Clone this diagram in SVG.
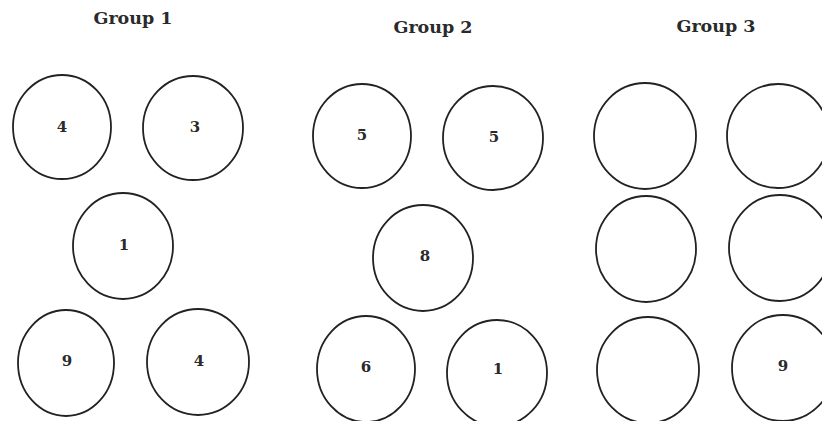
<svg xmlns="http://www.w3.org/2000/svg" width="822" height="421" viewBox="0 0 822 421">
<style>
.c{fill:none;stroke:#222;stroke-width:1.8}
.t{font-family:"DejaVu Serif","Liberation Serif",serif;font-weight:bold;font-size:17.5px;fill:#2a2a2a;text-anchor:middle}
.n{font-family:"DejaVu Serif","Liberation Serif",serif;font-weight:bold;font-size:15px;fill:#2a2a2a;text-anchor:middle;dominant-baseline:central}
</style>
<rect width="822" height="421" fill="#fff"/>
<g id="titles">
<text class="t" x="133" y="24">Group 1</text>
<text class="t" x="433" y="33">Group 2</text>
<text class="t" x="716" y="32">Group 3</text>
</g>
<g id="connectors"></g>
<g id="g1a"><ellipse class="c" cx="62" cy="127" rx="49" ry="52"/><text class="n" x="62" y="127">4</text></g>
<g id="g1b"><ellipse class="c" cx="193" cy="128" rx="50" ry="52"/><text class="n" x="195" y="127">3</text></g>
<g id="g1c"><ellipse class="c" cx="123" cy="246" rx="50" ry="53"/><text class="n" x="124" y="245">1</text></g>
<g id="g1d"><ellipse class="c" cx="66" cy="363" rx="48" ry="53"/><text class="n" x="67" y="361">9</text></g>
<g id="g1e"><ellipse class="c" cx="198" cy="362" rx="51" ry="53"/><text class="n" x="199" y="361">4</text></g>
<g id="g2a"><ellipse class="c" cx="362" cy="136" rx="49" ry="52"/><text class="n" x="362" y="135">5</text></g>
<g id="g2b"><ellipse class="c" cx="493" cy="138" rx="50" ry="52"/><text class="n" x="494" y="137">5</text></g>
<g id="g2c"><ellipse class="c" cx="423" cy="258" rx="50" ry="53"/><text class="n" x="425" y="256">8</text></g>
<g id="g2d"><ellipse class="c" cx="366" cy="369" rx="49" ry="53"/><text class="n" x="366" y="367">6</text></g>
<g id="g2e"><ellipse class="c" cx="497" cy="373" rx="50" ry="53"/><text class="n" x="498" y="369">1</text></g>
<g id="g3a"><ellipse class="c" cx="645" cy="136" rx="51" ry="53"/></g>
<g id="g3b"><ellipse class="c" cx="778" cy="136" rx="51" ry="52"/></g>
<g id="g3c"><ellipse class="c" cx="646" cy="249" rx="50" ry="53"/></g>
<g id="g3d"><ellipse class="c" cx="780" cy="248" rx="51" ry="53"/></g>
<g id="g3e"><ellipse class="c" cx="648" cy="370" rx="51" ry="53"/></g>
<g id="g3f"><ellipse class="c" cx="783" cy="368" rx="51" ry="53"/><text class="n" x="783" y="366">9</text></g>
</svg>
